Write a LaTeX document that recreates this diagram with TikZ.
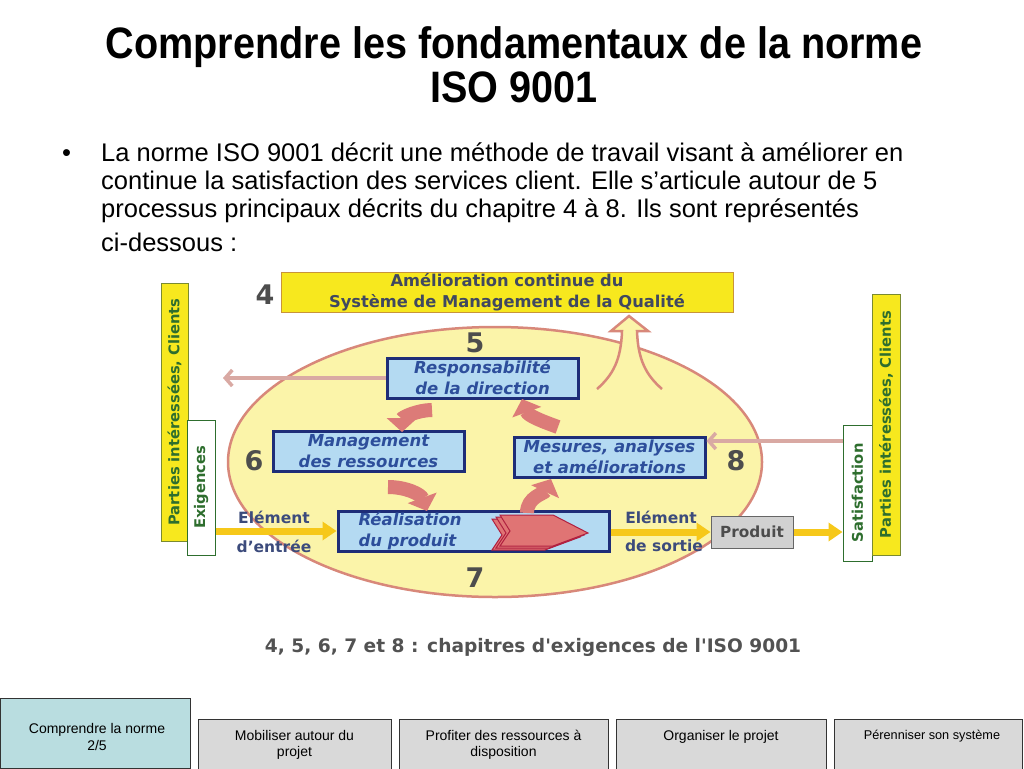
\documentclass[tikz,border=0pt]{standalone}
\usepackage{fontspec}
\setmainfont{Liberation Sans}
\newfontfamily\dv{DejaVu Sans}
\newfontfamily\titlefont[FakeStretch=0.9]{Liberation Sans}
\usetikzlibrary{arrows.meta,shapes.geometric}
\definecolor{ybox}{HTML}{F7E81E}
\definecolor{yboxbd}{HTML}{C8943A}
\definecolor{sidebd}{HTML}{7A8A30}
\definecolor{ellfill}{HTML}{FBF4A9}
\definecolor{ellbd}{HTML}{D8887A}
\definecolor{pfill}{HTML}{B4DAF2}
\definecolor{pbd}{HTML}{1E2D78}
\definecolor{ptext}{HTML}{2D4E9B}
\definecolor{fatc}{HTML}{DC7B78}
\definecolor{thinc}{HTML}{D9A9A3}
\definecolor{yarrow}{HTML}{F6C81A}
\definecolor{gtext}{HTML}{2E6E2E}
\definecolor{numc}{HTML}{4D4D4D}
\definecolor{elc}{HTML}{3C4B7C}
\definecolor{amtext}{HTML}{404860}
\definecolor{navact}{HTML}{B9DDE0}
\definecolor{navoff}{HTML}{D9D9D9}
\definecolor{chevfill}{HTML}{E07474}
\definecolor{chevbd}{HTML}{B02040}
\begin{document}
\begin{tikzpicture}[x=1pt,y=-1pt,
  procbox/.style={draw=pbd, line width=3pt, fill=pfill, minimum width=191pt, minimum height=40pt, inner sep=0pt},
  proclabel/.style={font=\dv\bfseries\itshape\fontsize{16.5}{21}\selectfont, text=ptext, align=center},
  numlabel/.style={font=\dv\bfseries\fontsize{27}{27}\selectfont, text=numc},
  sideyellow/.style={draw=sidebd, line width=1pt, fill=ybox, inner sep=0pt},
  sidewhite/.style={draw=gtext, line width=1pt, fill=white, inner sep=0pt},
  sidelabel/.style={rotate=90, font=\dv\bfseries\fontsize{14.7}{15}\selectfont, text=gtext},
  fatarrow/.style={draw=fatc, line width=14pt, -{Triangle[width=30pt,length=14pt]}},
  thinarrow/.style={draw=thinc, line width=3.5pt, -{Straight Barb[length=7pt,width=16pt]}},
  yarr/.style={draw=yarrow, line width=7pt, -{Triangle[width=18pt,length=14pt]}},
  ellabel/.style={font=\dv\bfseries\fontsize{15.5}{15.5}\selectfont, text=elc},
  navbox/.style={draw=black!80, line width=0.8pt, fill=navoff, inner sep=0pt},
  navtext/.style={font=\fontsize{14}{16.5}\selectfont, align=center},
  bodyline/.style={anchor=base west, inner sep=0pt, font=\fontsize{25.5}{28}\selectfont},
  chevron/.style={fill=chevfill, draw=chevbd, line width=1pt, line join=miter}
]
\useasboundingbox (0,0) rectangle (1024,768);
\fill[white] (0,0) rectangle (1024,768);

% title
\node[font=\titlefont\bfseries\fontsize{44}{44}\selectfont, anchor=base, inner sep=0pt] (t1) at (514,59) {Comprendre les fondamentaux de la norme};
\node[font=\titlefont\bfseries\fontsize{44}{44}\selectfont, anchor=base, inner sep=0pt] (t2) at (514,102) {ISO 9001};

% body
\node[bodyline] (bullet) at (62,161) {•};
\node[bodyline] (b1) at (101,161) {La norme ISO 9001 décrit une méthode de travail visant à améliorer en};
\node[bodyline] (b2) at (101,189) {continue la satisfaction des services client. Elle s’articule autour de 5};
\node[bodyline] (b3) at (101,217) {processus principaux décrits du chapitre 4 à 8. Ils sont représentés};
\node[bodyline] (b4) at (101,251) {ci-dessous :};

% ellipse
\node[ellipse, draw=ellbd, line width=2.5pt, fill=ellfill, minimum width=534pt, minimum height=270pt, inner sep=0pt] (ell) at (495,462) {};

% up arrow
\draw[draw=ellbd, line width=2.5pt, fill=ellfill, line join=miter]
  (597,389) .. controls (613,375) and (621,360) .. (622,331) -- (611,331) -- (629,316) -- (648,331) -- (637,331) .. controls (638,360) and (646,375) .. (662,389);

% top box
\node[draw=yboxbd, line width=1pt, fill=ybox, minimum width=452pt, minimum height=40pt, inner sep=0pt, align=center, font=\dv\bfseries\fontsize{16.3}{21}\selectfont, text=amtext] (amel) at (507,292) {Amélioration continue du\\Système de Management de la Qualité};

% numbers
\node[numlabel] (n4) at (265,295) {4};
\node[numlabel] (n5) at (475,343) {5};
\node[numlabel] (n6) at (254,461) {6};
\node[numlabel] (n7) at (475,578) {7};
\node[numlabel] (n8) at (736,461) {8};

% process boxes
\node[procbox] (resp) at (482.5,378) {};
\node[proclabel] at (resp) {Responsabilité\\de la direction};
\node[procbox] (mgmt) at (368.5,451) {};
\node[proclabel] at (mgmt) {Management\\des ressources};
\node[procbox] (mes) at (609.5,457) {};
\node[proclabel] at (mes) {Mesures, analyses\\et améliorations};
\node[procbox, minimum width=271pt] (real) at (473.5,531) {};
\node[proclabel, align=left, anchor=west] at (355,531) {Réalisation\\du produit};

% chevron
\foreach \s in {2,1,0}
  \draw[chevron, shift={(-4*\s,2*\s)}] (500,515) -- (553,515) -- (588,533) -- (553,546) -- (500,546) -- (510,531) -- cycle;

% fat curved arrows
\draw[fatarrow] (432,410) to[out=180,in=90] (402,432);
\draw[fatarrow] (388,487) to[out=0,in=110] (427,511);
\draw[fatarrow] (527,513) to[out=90,in=-115] (551,479);
\draw[fatarrow] (558,427) to[out=160,in=-70] (522,399);

% side boxes
\node[sideyellow, minimum width=27pt, minimum height=258pt] (lyel) at (174.5,412) {};
\node[sidelabel] at (lyel) {Parties intéressées, Clients};
\node[sidewhite, minimum width=28pt, minimum height=135pt] (exig) at (201,487.5) {};
\node[sidelabel] at (exig) {Exigences};
\node[sidewhite, minimum width=29pt, minimum height=136pt] (satis) at (857.5,493) {};
\node[sidelabel] at (satis) {Satisfaction};
\node[sideyellow, minimum width=28pt, minimum height=261pt] (ryel) at (886,424.5) {};
\node[sidelabel] at (ryel) {Parties intéressées, Clients};

% thin arrows
\coordinate (lend) at (223,378);
\draw[thinarrow] (resp.west) -- (lend);
\draw[thinarrow] (satis.west |- 0,441) -- (mes.east |- 0,441);

% product
\node[draw=black!60, line width=1pt, fill=black!18, minimum width=82pt, minimum height=32pt, inner sep=0pt, font=\dv\bfseries\fontsize{15.3}{15}\selectfont, text=black!70] (prod) at (752,532) {Produit};

% yellow arrows
\draw[yarr] (exig.east |- real.west) -- (real.west);
\draw[yarr] (real.east |- prod.west) -- (prod.west);
\draw[yarr] (prod.east) -- (satis.west |- prod.east);

% element labels
\node[ellabel] (e1) at (274,517) {Elément};
\node[ellabel] (e2) at (274,546) {d’entrée};
\node[ellabel] (s1) at (661,517) {Elément};
\node[ellabel] (s2) at (664,546) {de sortie};

% caption
\node[font=\dv\bfseries\fontsize{18.6}{18.6}\selectfont, text=black!68] (cap) at (533,647) {4, 5, 6, 7 et 8 : chapitres d'exigences de l'ISO 9001};

% navigation
\node[navbox, fill=navact, minimum width=190pt, minimum height=70pt] (nav1) at (95,733) {};
\node[navtext] at (97,737) {Comprendre la norme\\2/5};
\node[navbox, minimum width=193pt, minimum height=50pt] (nav2) at (294.5,744) {};
\node[navtext] at (294.5,745) {Mobiliser autour du\\projet};
\node[navbox, minimum width=209pt, minimum height=50pt] (nav3) at (503.5,744) {};
\node[navtext] at (503.5,745) {Profiter des ressources à\\disposition};
\node[navbox, minimum width=210pt, minimum height=50pt] (nav4) at (721,744) {};
\node[navtext] at (721,737) {Organiser le projet};
\node[navbox, minimum width=188pt, minimum height=50pt] (nav5) at (928,744) {};
\node[navtext, font=\fontsize{12.7}{14}\selectfont] at (932,736) {Pérenniser son système};
\end{tikzpicture}
\end{document}
